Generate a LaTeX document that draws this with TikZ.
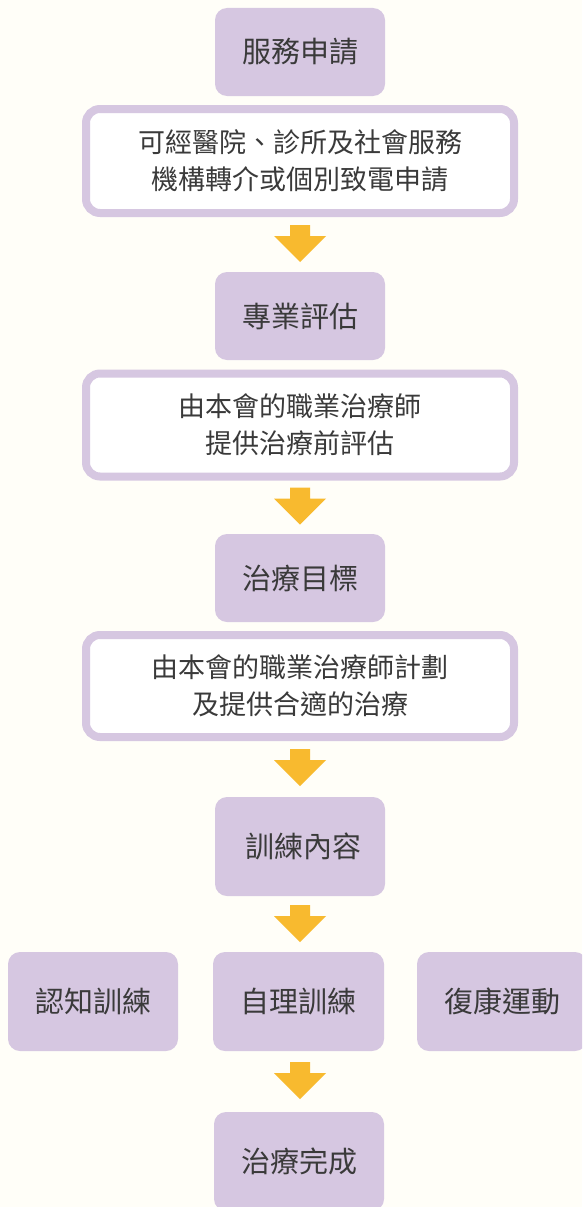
\documentclass[tikz,border=0pt]{standalone}
\usepackage{fontspec}
\newfontfamily\cjk{Noto Sans CJK TC}
\definecolor{bgc}{HTML}{FFFEF8}
\definecolor{lav}{HTML}{D6C7E1}
\definecolor{arrowc}{HTML}{F8BA2F}
\definecolor{txt}{HTML}{3A3A3A}
\tikzset{
  mainbox/.style={fill=lav, rounded corners=12pt, minimum width=170pt, minimum height=88pt, inner sep=0pt, text=txt, font=\cjk\fontsize{29}{34}\selectfont},
  tallbox/.style={mainbox, minimum height=99pt},
  notebox/.style={fill=white, draw=lav, line width=8pt, rounded corners=14pt, minimum width=428pt, inner sep=0pt, text=txt, align=center, font=\cjk\fontsize{27}{37}\selectfont},
  downarrow/.pic={\fill[arrowc] (-10,0) -- (10,0) -- (10,11) -- (26,11) -- (0,37) -- (-26,11) -- (-10,11) -- cycle;}
}
\begin{document}
\begin{tikzpicture}[x=1pt,y=-1pt]
\useasboundingbox (0,0) rectangle (582,1207);
\fill[bgc] (0,0) rectangle (582,1207);
\clip (0,0) rectangle (582,1207);
\node[mainbox] (b1) at (300,52) {\raisebox{-2pt}{服務申請}};
\node[notebox, minimum height=104pt] (w1) at (300,161) {可經醫院、診所及社會服務\\機構轉介或個別致電申請};
\path (w1.south) ++(0,8) pic {downarrow};
\node[mainbox] (b2) at (300,316) {\raisebox{-2pt}{專業評估}};
\node[notebox, minimum height=103pt] (w2) at (300,425) {由本會的職業治療師\\提供治療前評估};
\path (w2.south) ++(0,7) pic {downarrow};
\node[mainbox] (b3) at (300,578) {\raisebox{-2pt}{治療目標}};
\node[notebox, minimum height=102pt] (w3) at (300,686) {由本會的職業治療師計劃\\及提供合適的治療};
\path (w3.south) ++(0,8) pic {downarrow};
\node[tallbox] (b4) at (300,846.5) {\hspace*{7pt}\raisebox{-2pt}{訓練內容}};
\path (b4.south) ++(0,9) pic {downarrow};
\node[tallbox] (r1) at (93,1001.5) {\raisebox{-1pt}{認知訓練}};
\node[tallbox, minimum width=171pt] (r2) at (298.5,1001.5) {\raisebox{-1pt}{自理訓練}};
\node[tallbox] (r3) at (502,1001.5) {\raisebox{-1pt}{復康運動}};
\path (r2.south) ++(1.5,11) pic {downarrow};
\node[tallbox] (b5) at (299,1161.5) {\raisebox{-1pt}{治療完成}};
\end{tikzpicture}
\end{document}
